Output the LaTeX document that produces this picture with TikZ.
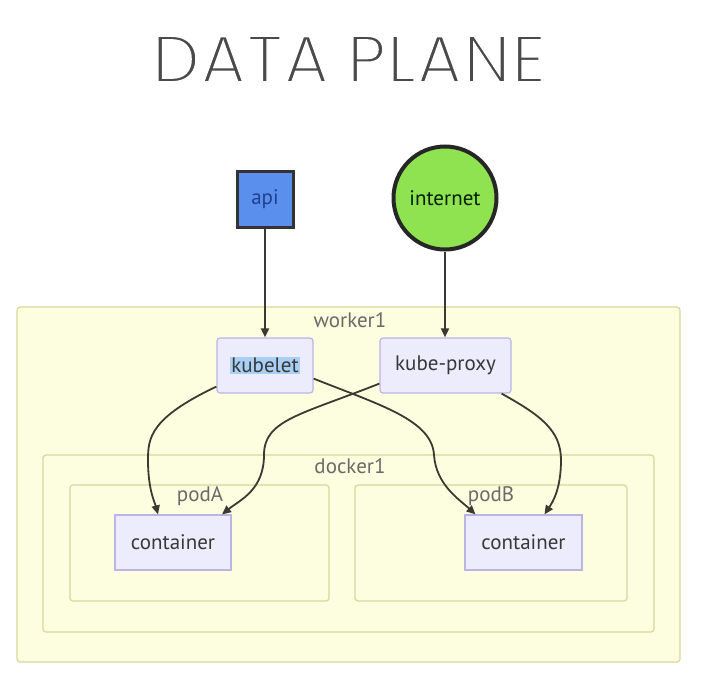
\documentclass[tikz,border=0pt]{standalone}
\usepackage{fontspec}
\setmainfont{PT Sans}
\newfontfamily\titlefont{Poppins}
\usetikzlibrary{arrows.meta}
\definecolor{clusterfill}{HTML}{FDFDE0}
\definecolor{clusterline}{HTML}{D8D89C}
\definecolor{nodefill}{HTML}{ECECFC}
\definecolor{nodeline}{HTML}{BDB4E6}
\definecolor{apifill}{HTML}{5B8FEE}
\definecolor{apitext}{HTML}{1F3F8F}
\definecolor{netfill}{HTML}{8FE350}
\definecolor{edgecol}{HTML}{3A3A32}
\definecolor{labelcol}{HTML}{6A6A6A}
\definecolor{hlcol}{HTML}{A9CFF5}
\definecolor{titlecol}{HTML}{4A4A4A}
\tikzset{
  cluster/.style={draw=clusterline, fill=clusterfill, line width=1.2pt, rounded corners=3pt},
  clabel/.style={text=labelcol, font=\fontsize{21}{24}\selectfont},
  box/.style={draw=nodeline, fill=nodefill, line width=1.2pt, rounded corners=3pt, inner sep=0pt,
    text=black!78, font=\fontsize{21}{24}\selectfont},
  arr/.style={draw=edgecol, line width=1.8pt, -{Triangle[length=9pt,width=8pt]}}
}
\begin{document}
\begin{tikzpicture}[x=1pt,y=-1pt]
\useasboundingbox[fill=white] (0,0) rectangle (701,685);
% title
\node[text=titlecol] (title) at (349,59) {\resizebox{394pt}{!}{\special{pdf:literal 2 Tr 0.42 w 1 1 1 RG}\titlefont D\kern0.15pt A\kern0.1pt T\kern0.1pt A P\kern0.15pt L\kern0.1pt A\kern0.15pt N\kern0.15pt E\special{pdf:literal 0 Tr}}};
% clusters
\draw[cluster] (17,307) rectangle (680,662);
\node[clabel] (wlabel) at (350,320) {worker1};
\draw[cluster] (43,455) rectangle (654,632);
\node[clabel] (dlabel) at (350,466) {docker1};
\draw[cluster] (70,485) rectangle (329,601);
\node[clabel] (palabel) at (200,496) {podA};
\draw[cluster] (355,485) rectangle (627,601);
\node[clabel] (pblabel) at (491,496) {podB};
% nodes
\node[draw=black!80, fill=apifill, line width=3pt, minimum width=56pt, minimum height=56pt, inner sep=0pt,
  text=apitext, font=\fontsize{21}{24}\selectfont] (api) at (265,199) {api};
\node[circle, draw=black!85, fill=netfill, line width=4pt, minimum size=103pt, inner sep=0pt,
  text=black!70!green!40!black, font=\fontsize{21}{24}\selectfont] (internet) at (445,198) {internet};
\node[box, minimum width=96pt, minimum height=55pt] (kubelet) at (265,365.5)
  {\setlength\fboxsep{1.5pt}\colorbox{hlcol}{kubelet}};
\node[box, minimum width=131pt, minimum height=55pt] (proxy) at (445.5,365.5) {kube-proxy};
\node[box, rounded corners=0pt, minimum width=116pt, minimum height=55pt] (contA) at (173,542.5) {container};
\node[box, rounded corners=0pt, minimum width=117pt, minimum height=55pt] (contB) at (523.5,542.5) {container};
% edges
\draw[arr] (api.south) -- (api.south |- kubelet.north);
\draw[arr] (internet.south) -- (internet.south |- proxy.north);
\draw[arr] ([yshift=7pt]kubelet.south west) .. controls (150,418) and (148,438) .. (148,460)
  .. controls (148,490) and (155,503) .. ([xshift=-15pt]contA.north);
\draw[arr] ([yshift=15pt]kubelet.south east) .. controls (380,405) and (432,420) .. (434,455)
  .. controls (436,485) and (460,500) .. ([xshift=-48pt]contB.north);
\draw[arr] ([yshift=10pt]proxy.south west) .. controls (300,415) and (264,420) .. (264,455)
  .. controls (264,490) and (240,500) .. ([xshift=49pt]contA.north);
\draw[arr] ([xshift=-10pt]proxy.south east) .. controls (540,415) and (561,430) .. (561,460)
  .. controls (561,490) and (552,503) .. ([xshift=21pt]contB.north);
\end{tikzpicture}
\end{document}
